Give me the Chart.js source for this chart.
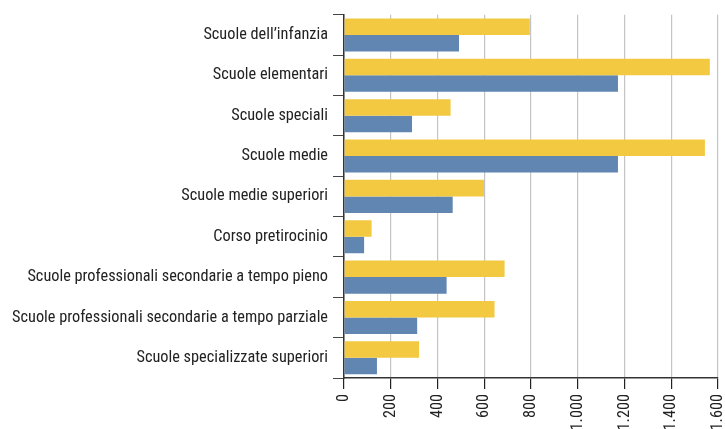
<!DOCTYPE html>
<html>
<head>
<meta charset="utf-8">
<script src="https://cdn.jsdelivr.net/npm/chart.js@4"></script>
<style>
  html, body { margin: 0; padding: 0; background: #fff; }
  #wrap { width: 725px; height: 429px; }
</style>
</head>
<body>
<div id="wrap"><canvas id="chart"></canvas></div>
<script>
const categories = [
  'Scuole dell\u2019infanzia',
  'Scuole elementari',
  'Scuole speciali',
  'Scuole medie',
  'Scuole medie superiori',
  'Corso pretirocinio',
  'Scuole professionali secondarie a tempo pieno',
  'Scuole professionali secondarie a tempo parziale',
  'Scuole specializzate superiori'
];
const yellowValues = [795, 1565, 456, 1544, 599, 118, 687, 644, 321];
const blueValues = [492, 1172, 291, 1172, 465, 86, 439, 313, 141];
const xTicks = [0, 200, 400, 600, 800, 1000, 1200, 1400, 1600];

const labelFont = { family: "'Roboto Condensed', 'Open Sans Condensed', sans-serif", size: 16.3 };

function itNumber(v) {
  return String(v).replace(/\B(?=(\d{3})+(?!\d))/g, '.');
}

const ctx = document.getElementById('chart');
const data = {
  labels: categories,
  datasets: [{
    label: 'A',
    data: yellowValues,
    backgroundColor: 'rgb(242, 201, 65)',
    borderWidth: 0,
    barPercentage: 1.0,
    categoryPercentage: 0.82
  }, {
    label: 'B',
    data: blueValues,
    backgroundColor: 'rgb(96, 134, 177)',
    borderWidth: 0,
    barPercentage: 1.0,
    categoryPercentage: 0.82
  }]
};

const config = {
  type: 'bar',
  data: data,
  options: {
    indexAxis: 'y',
    responsive: true,
    maintainAspectRatio: false,
    animation: false,
    layout: { padding: { top: 13, right: 7, left: 0, bottom: 0 } },
    plugins: { legend: { display: false }, tooltip: { enabled: false } },
    scales: {
      x: {
        min: 0,
        max: 1600,
        afterBuildTicks: (scale) => { scale.ticks = xTicks.map(v => ({ value: v })); },
        afterFit: (scale) => { scale.height = 51; scale.paddingLeft = 0; scale.paddingRight = 0; },
        border: { display: true, color: '#333', width: 1.5 },
        grid: { color: '#c4c4c4', lineWidth: 1.2, tickColor: '#222', tickLength: 11 },
        ticks: {
          minRotation: 90, maxRotation: 90, padding: 5,
          color: '#222', font: labelFont,
          callback: (v) => itNumber(v)
        }
      },
      y: {
        afterFit: (scale) => { scale.width = 344; },
        border: { display: true, color: '#333', width: 1.5 },
        grid: { drawOnChartArea: false, color: '#444', tickColor: '#444', tickLength: 11, offset: true },
        ticks: { padding: 5, color: '#222', font: labelFont }
      }
    }
  }
};

new Chart(ctx, config);
</script>
</body>
</html>
